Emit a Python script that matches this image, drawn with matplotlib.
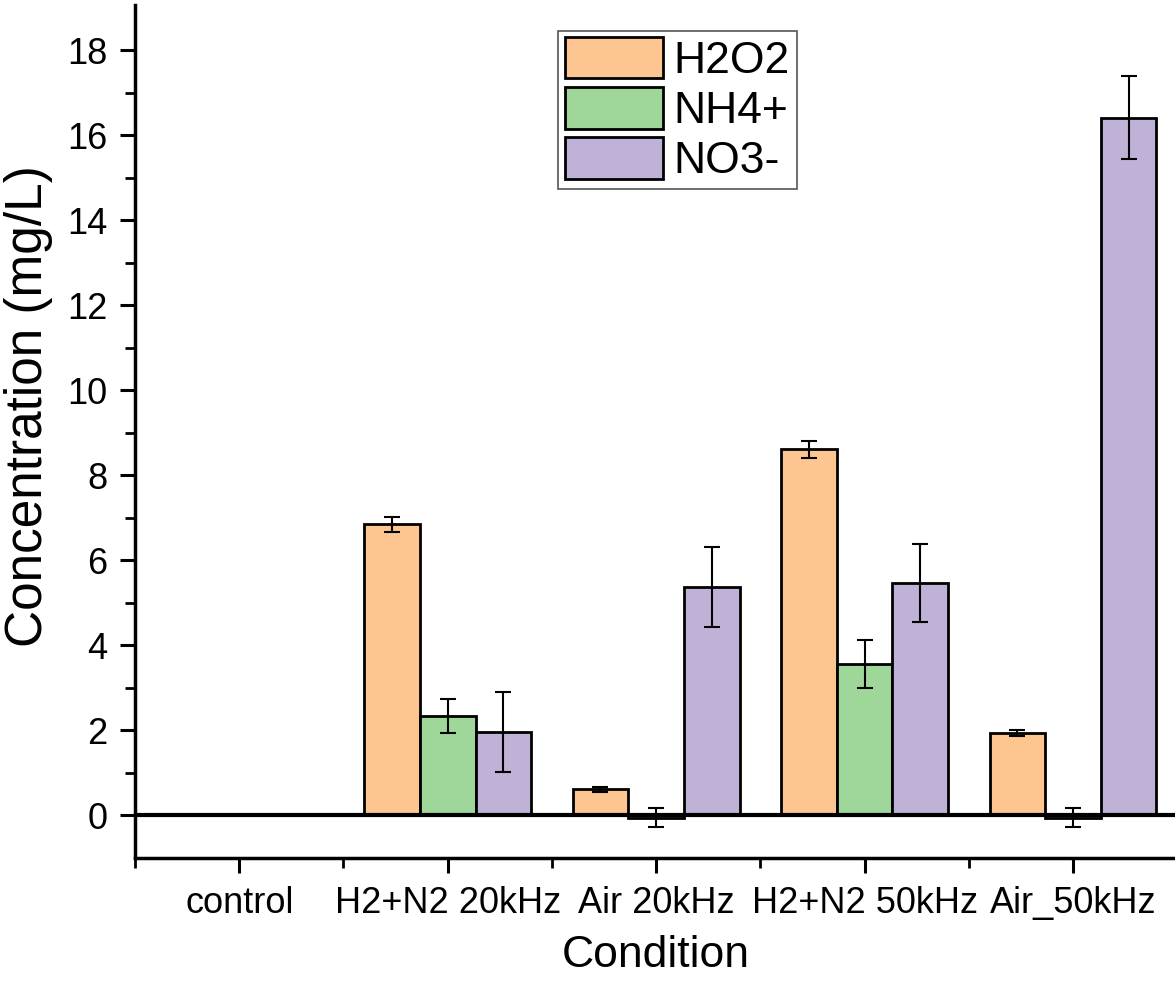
import matplotlib.pyplot as plt
import numpy as np

plt.rcParams['font.family'] = ['Liberation Sans', 'DejaVu Sans']

conditions = ['control', 'H2+N2 20kHz', 'Air 20kHz', 'H2+N2 50kHz', 'Air_50kHz']
species = ['H2O2', 'NH4+', 'NO3-']

h2o2 = [0.0, 6.85, 0.62, 8.62, 1.93]
h2o2_err = [0.0, 0.17, 0.06, 0.20, 0.07]
nh4 = [0.0, 2.34, -0.05, 3.56, -0.05]
nh4_err = [0.0, 0.41, 0.23, 0.56, 0.23]
no3 = [0.0, 1.96, 5.37, 5.47, 16.42]
no3_err = [0.0, 0.94, 0.94, 0.92, 0.97]

colors = ['#FDC691', '#9FD79B', '#C0B1D7']

fig = plt.figure(figsize=(11.75, 9.88), dpi=100)
ax = fig.add_axes([0.1149, 0.1316, 0.887, 0.8634])

x = np.arange(len(conditions))
width = 0.267
series = [(h2o2, h2o2_err), (nh4, nh4_err), (no3, no3_err)]
for i, (vals, errs) in enumerate(series):
    pos = x + (i - 1) * width
    ax.bar(pos, vals, width, color=colors[i], edgecolor='black', linewidth=2,
           label=species[i], zorder=2)
    ax.errorbar(pos[1:], vals[1:], yerr=errs[1:], fmt='none', ecolor='black',
                elinewidth=1.5, capsize=6, capthick=1.5, zorder=3)

# baseline at zero
ax.axhline(0, color='black', linewidth=3, zorder=4)

ax.set_xlim(-0.5, 4.5)
ax.set_ylim(-1, 19.07)
ax.set_xticks(x)
ax.set_xticklabels(conditions)
ax.set_xticks(np.arange(-0.5, 4.6, 1), minor=True)
ax.set_yticks(np.arange(0, 19, 2))
ax.set_yticks(np.arange(1, 19, 2), minor=True)

for side in ['top', 'right']:
    ax.spines[side].set_visible(False)
for side in ['left', 'bottom']:
    ax.spines[side].set_linewidth(2.5)

ax.tick_params(axis='both', which='major', direction='out', length=11, width=2.2,
               labelsize=26, pad=9)
ax.tick_params(axis='both', which='minor', direction='out', length=7, width=2)

ax.set_xlabel('Condition', fontsize=32, labelpad=10)
ax.set_ylabel('Concentration (mg/L)', fontsize=37)
ax.yaxis.set_label_coords(-0.079, 0.53)

leg = ax.legend(loc='upper left', bbox_to_anchor=(0.406, 0.97), borderaxespad=0,
                fontsize=32, fancybox=False, framealpha=1, edgecolor='#555555',
                handlelength=2.2, handleheight=1.05, labelspacing=0.12,
                handletextpad=0.25, borderpad=0.15)
leg.get_frame().set_linewidth(1.2)

fig.savefig('out.png', dpi=100)
